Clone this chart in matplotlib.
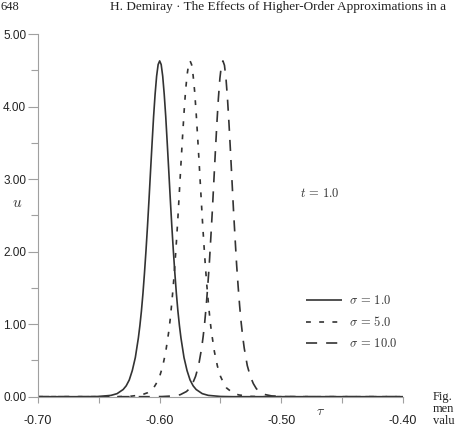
import matplotlib.pyplot as plt
import numpy as np

plt.rcParams['mathtext.fontset'] = 'cm'
plt.rcParams['lines.scale_dashes'] = False

# peak positions
peaks = [-0.600, -0.575, -0.548]
labels = [r'$\sigma\,=\,1.0$', r'$\sigma\,=\,5.0$', r'$\sigma\,=\,10.0$']

# half profiles (curves are symmetric): distance from the peak and height u
offsets = [0.0, 0.00125, 0.0025, 0.00375, 0.005, 0.00625, 0.0075, 0.00875, 0.01,
           0.01125, 0.0125, 0.01375, 0.015, 0.01625, 0.0175, 0.02, 0.0225, 0.025,
           0.0275, 0.03, 0.035, 0.04, 0.05, 0.06]
u_s1 = [4.63, 4.58, 4.42, 4.17, 3.86, 3.49, 3.11, 2.72, 2.35, 2.01, 1.70, 1.42,
        1.18, 0.98, 0.81, 0.54, 0.36, 0.23, 0.15, 0.099, 0.042, 0.018, 0.003, 0.0]
u_s5 = [4.63, 4.58, 4.43, 4.21, 3.91, 3.57, 3.21, 2.84, 2.47, 2.13, 1.82, 1.54,
        1.30, 1.08, 0.90, 0.62, 0.42, 0.28, 0.19, 0.12, 0.054, 0.024, 0.004, 0.0]
u_s10 = [4.63, 4.57, 4.39, 4.11, 3.76, 3.37, 2.96, 2.55, 2.18, 1.82, 1.52, 1.25,
         1.02, 0.83, 0.67, 0.43, 0.28, 0.18, 0.11, 0.071, 0.028, 0.011, 0.002, 0.0]

xmin, xmax = -0.70, -0.40
series = [u_s1, u_s5, u_s10]
styles = [(0, ()), (0, (3.5, 6.0)), (0, (8.0, 6.5))]

ink = '#333333'
axis_grey = '#a0a0a0'

fig = plt.figure(figsize=(4.56, 4.26), dpi=100)
ax = fig.add_axes([0.0833, 0.0688, 0.8005, 0.8512])

for peak, u, ls, lab in zip(peaks, series, styles, labels):
    d = np.array(offsets)
    uh = np.array(u)
    tau = np.concatenate([[xmin], peak - d[::-1], peak + d[1:], [xmax]])
    uu = np.concatenate([[0.0], uh[::-1], uh[1:], [0.0]])
    ax.plot(tau, uu, color=ink, lw=1.2, linestyle=ls, label=lab)

ax.set_xlim(xmin, xmax)
ax.set_ylim(0, 5)
ax.set_xticks([-0.70, -0.60, -0.50, -0.40])
ax.set_xticklabels(['-0.70', '-0.60', '-0.50', '-0.40'])
ax.set_xticks([-0.65, -0.55, -0.45], minor=True)
ax.set_yticks([0, 1, 2, 3, 4, 5])
ax.set_yticklabels(['0.00', '1.00', '2.00', '3.00', '4.00', '5.00'])
ax.set_yticks([0.5, 1.5, 2.5, 3.5, 4.5], minor=True)

for s in ['top', 'right']:
    ax.spines[s].set_visible(False)
for s in ['left', 'bottom']:
    ax.spines[s].set_color(axis_grey)
    ax.spines[s].set_linewidth(0.8)

ax.tick_params(axis='y', which='major', length=7, width=0.8, color=axis_grey,
               pad=1.5, labelsize=8.5, labelcolor='#222222', labelfontfamily='Liberation Sans')
ax.tick_params(axis='y', which='minor', length=5, width=0.8, color=axis_grey)
ax.tick_params(axis='x', which='both', length=4, width=0.8, color=axis_grey,
               pad=9, labelsize=9, labelcolor='#222222', labelfontfamily='Liberation Sans')

# axis names placed as in the figure
ax.text(-0.058, 0.535, r'$u$', transform=ax.transAxes, fontsize=11, color=ink,
        ha='center', va='center')
ax.text(0.775, -0.04, r'$\tau$', transform=ax.transAxes, fontsize=10, color=ink,
        ha='center', va='center')
ax.text(0.718, 0.56, r'$t\,=\,1.0$', transform=ax.transAxes, fontsize=9, color=ink,
        ha='left', va='center')

leg = ax.legend(loc='upper left', bbox_to_anchor=(0.733, 0.283), frameon=False,
                fontsize=9, handlelength=2.9, handletextpad=0.6, labelspacing=0.65,
                borderaxespad=0, borderpad=0)
for t in leg.get_texts():
    t.set_color(ink)

# page text around the scanned figure
fig.text(1 / 456, 1 - 10 / 426, '648', fontsize=9, family='Liberation Serif',
         ha='left', va='baseline', color='#222222')
fig.text(110 / 456, 1 - 10 / 426,
         'H. Demiray \u00b7 The Effects of Higher-Order Approximations in a',
         fontsize=9.5, family='Liberation Serif', ha='left', va='baseline', color='#222222')
for i, line in enumerate(['Fig.', 'men', 'valu']):
    fig.text(433 / 456, 1 - (400 + 12 * i) / 426, line, fontsize=9,
             family='Liberation Serif', ha='left', va='baseline', color='#222222')

fig.savefig('out.png', dpi=100)
